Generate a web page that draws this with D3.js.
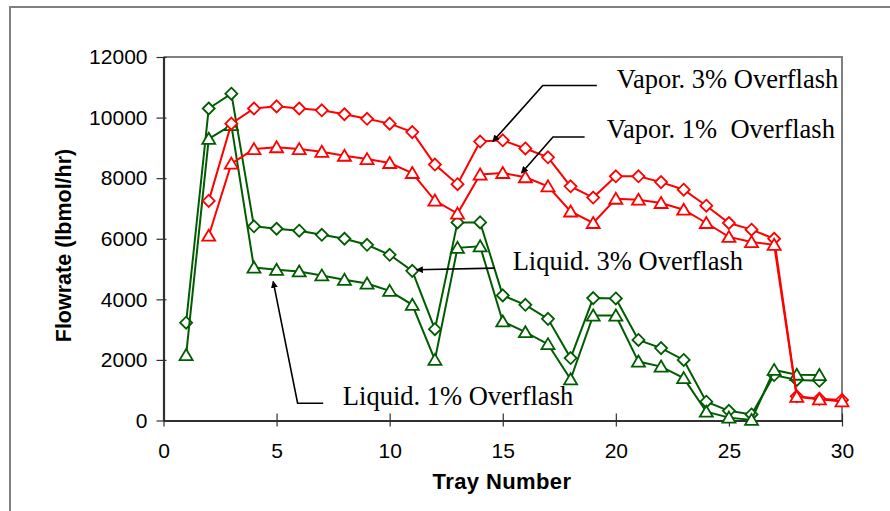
<html>
<head>
<script src="https://d3js.org/d3.v7.min.js"></script>
<style>
body { margin:0; background:#fff; }
</style>
</head>
<body>
<script>
var width = 890;
var height = 511;
var margin = {top:57, right:48, bottom:90.5, left:163.5};
var w = width - margin.left - margin.right;
var h = height - margin.top - margin.bottom;

// tray numbers
var vaporTrays = [2,3,4,5,6,7,8,9,10,11,12,13,14,15,16,17,18,19,20,21,22,23,24,25,26,27,28,29,30];
var liquidTrays = [1,2,3,4,5,6,7,8,9,10,11,12,13,14,15,16,17,18,19,20,21,22,23,24,25,26,27,28,29];

// flowrates (lbmol/hr)
var vapor3 = [7250,9800,10300,10370,10300,10240,10110,9960,9800,9520,8450,7800,9210,9250,8980,8690,7730,7360,8060,8060,7870,7620,7090,6520,6300,6000,800,720,680];
var vapor1 = [6100,8480,8960,9020,8960,8870,8740,8630,8500,8170,7260,6830,8120,8170,8030,7730,6900,6520,7320,7290,7180,6960,6520,6060,5890,5800,780,700,630];
var liquid3 = [3230,10300,10790,6410,6330,6265,6130,6000,5800,5470,4940,3015,6540,6540,4130,3820,3355,2060,4040,4030,2660,2390,2000,620,320,200,1500,1340,1310];
var liquid1 = [2160,9300,9750,5050,4975,4920,4790,4645,4520,4280,3820,2000,5700,5750,3270,2915,2520,1360,3465,3465,1945,1780,1400,290,95,20,1670,1510,1500];

var xTicks = [0,5,10,15,20,25,30];
var yTicks = [0,2000,4000,6000,8000,10000,12000];

// labels with arrows: [text x, text y, path points...] in tray / flowrate units
var notes = [
  {text:"Vapor. 3% Overflash", at:[20.04,10990], path:[[19.16,11060],[16.77,11060],[14.56,9210]]},
  {text:"Vapor. 1%  Overflash", at:[19.6,9340], path:[[18.62,9360],[17.22,9360],[15.83,8170]]},
  {text:"Liquid. 3% Overflash", at:[15.44,4975], path:[[14.65,5030],[11.19,4975]]},
  {text:"Liquid. 1% Overflash", at:[7.93,512], path:[[7.06,570],[5.93,570],[4.85,4590]]}
];

var x = d3.scaleLinear().domain([0,30]).range([0,w]);
var y = d3.scaleLinear().domain([0,12000]).range([h,0]);

var svg = d3.select("body").append("svg")
    .attr("width", width)
    .attr("height", height);

// outer chart frame
svg.append("rect")
    .attr("x", 10).attr("y", 7)
    .attr("width", 900).attr("height", 520)
    .attr("fill", "none")
    .attr("stroke", "#808080")
    .attr("stroke-width", 2);

var defs = svg.append("defs");
defs.append("marker")
    .attr("id", "arrow")
    .attr("viewBox", "0 0 10 10")
    .attr("refX", 9).attr("refY", 5)
    .attr("markerWidth", 7).attr("markerHeight", 7)
    .attr("markerUnits", "userSpaceOnUse")
    .attr("orient", "auto")
  .append("path")
    .attr("d", "M0,0 L10,5 L0,10 z")
    .attr("fill", "black");

var g = svg.append("g")
    .attr("transform", "translate(" + margin.left + "," + margin.top + ")");

// plot area border (top and right)
g.append("path")
    .attr("d", "M0,0 H" + w + " V" + h)
    .attr("fill", "none")
    .attr("stroke", "#808080")
    .attr("stroke-width", 2);

var xAxis = g.append("g")
    .attr("transform", "translate(0," + h + ")")
    .call(d3.axisBottom(x).tickValues(xTicks).tickSize(6).tickSizeOuter(0).tickPadding(17));
xAxis.selectAll(".tick line").attr("y1", -7);
var yAxis = g.append("g")
    .call(d3.axisLeft(y).tickValues(yTicks).tickFormat(d3.format("d")).tickSize(7).tickSizeOuter(0).tickPadding(9));
yAxis.selectAll(".tick line").attr("x1", 3);

[xAxis, yAxis].forEach(function(a) {
  a.select(".domain").attr("stroke", "#303030").attr("stroke-width", 2.2);
  a.selectAll(".tick line").attr("stroke", "#303030").attr("stroke-width", 1.2);
  a.selectAll(".tick text")
    .attr("fill", "black")
    .style("font-family", "'Liberation Sans', Arial, sans-serif")
    .style("font-size", "21px");
});
xAxis.selectAll(".tick text").attr("dy", "0.71em");

svg.append("text")
    .attr("transform", "translate(71,245.5) rotate(-90)")
    .attr("text-anchor", "middle")
    .style("font-family", "'Liberation Sans', Arial, sans-serif")
    .style("font-weight", "bold")
    .style("font-size", "21.5px")
    .text("Flowrate (lbmol/hr)");

svg.append("text")
    .attr("x", 502).attr("y", 489)
    .attr("text-anchor", "middle")
    .style("font-family", "'Liberation Sans', Arial, sans-serif")
    .style("font-weight", "bold")
    .style("font-size", "22px")
    .style("letter-spacing", "0.4px")
    .text("Tray Number");

var diamond = "M0,-6 L6,0 L0,6 L-6,0 Z";
var triangle = "M0,-6 L6.5,5 L-6.5,5 Z";

var series = [
  {trays:liquidTrays, values:liquid3, color:"#005c00", shape:diamond},
  {trays:liquidTrays, values:liquid1, color:"#005c00", shape:triangle},
  {trays:vaporTrays, values:vapor3, color:"#ff0000", shape:diamond},
  {trays:vaporTrays, values:vapor1, color:"#ff0000", shape:triangle}
];

var line = d3.line()
    .x(function(d) { return x(d[0]); })
    .y(function(d) { return y(d[1]); });

series.forEach(function(s) {
  var pts = s.trays.map(function(t, i) { return [t, s.values[i]]; });
  var sg = g.append("g");
  sg.append("path")
      .attr("d", line(pts))
      .attr("fill", "none")
      .attr("stroke", s.color)
      .attr("stroke-width", 2);
  sg.selectAll("path.mk")
      .data(pts)
      .enter().append("path")
      .attr("class", "mk")
      .attr("d", s.shape)
      .attr("transform", function(d) { return "translate(" + x(d[0]) + "," + y(d[1]) + ")"; })
      .attr("fill", "white")
      .attr("stroke", s.color)
      .attr("stroke-width", 1.8);
});

// annotations
notes.forEach(function(n) {
  g.append("path")
      .attr("d", line(n.path))
      .attr("fill", "none")
      .attr("stroke", "black")
      .attr("stroke-width", 1.6)
      .attr("marker-end", "url(#arrow)");
  g.append("text")
      .attr("x", x(n.at[0]))
      .attr("y", y(n.at[1]))
      .attr("xml:space", "preserve")
      .style("white-space", "pre")
      .style("font-family", "'Liberation Serif', 'Times New Roman', serif")
      .style("font-size", "26.5px")
      .attr("fill", "black")
      .text(n.text);
});
</script>
</body>
</html>
